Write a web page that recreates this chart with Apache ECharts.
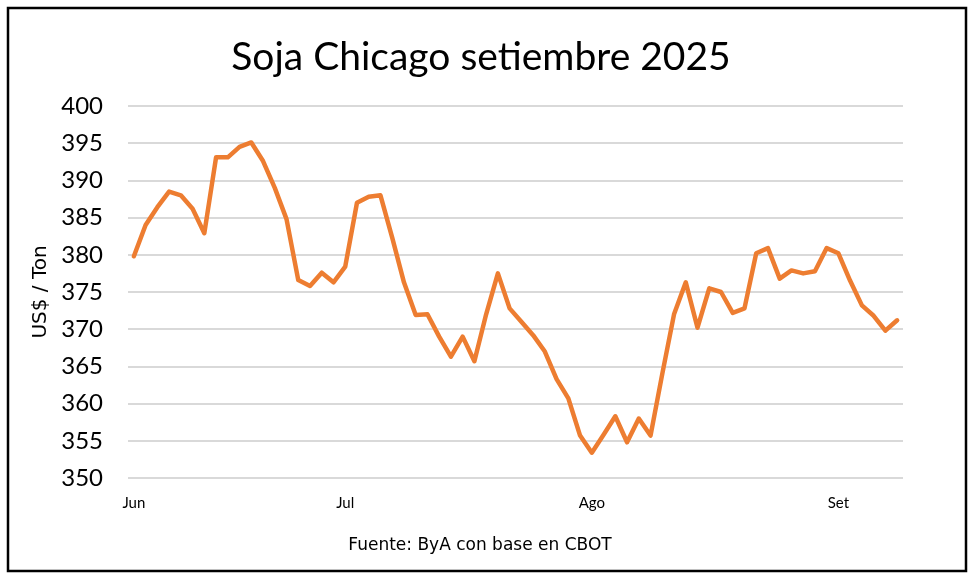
<!DOCTYPE html>
<html>
<head>
<meta charset="utf-8">
<script src="https://cdn.jsdelivr.net/npm/echarts@6/dist/echarts.min.js"></script>
<style>
  html, body { margin: 0; padding: 0; background: #fff; }
  #chart { width: 975px; height: 581px; }
</style>
</head>
<body>
<div id="chart"></div>
<script>
// soja sept-2025 contract, daily close (US$/ton)
const prices = [
  379.8, 384.0, 386.4, 388.5, 388.0, 386.2, 382.9, 393.1, 393.1, 394.5,
  395.1, 392.6, 389.0, 384.8, 376.6, 375.8, 377.6, 376.3, 378.4, 387.0,
  387.8, 388.0, 382.3, 376.3, 371.9, 372.0, 369.0, 366.3, 369.0, 365.7,
  372.0, 377.5, 372.8, 371.0, 369.2, 367.0, 363.3, 360.7, 355.7, 353.4,
  355.8, 358.3, 354.8, 358.0, 355.7, 364.0, 372.0, 376.3, 370.2, 375.5,
  375.0, 372.2, 372.8, 380.2, 380.9, 376.8, 377.9, 377.5, 377.8, 380.9,
  380.2, 376.5, 373.2, 371.8, 369.8, 371.2
];

// month labels and the trading day where each one sits
const monthLabels = ['Jun', 'Jul', 'Ago', 'Set'];
const monthIndex = [0, 18, 39, 60];

const yMin = 350, yMax = 400, yStep = 5;

const categories = prices.map((_, i) => {
  const k = monthIndex.indexOf(i);
  return k >= 0 ? monthLabels[k] : '';
});

const chart = echarts.init(document.getElementById('chart'), null, { renderer: 'canvas' });

chart.setOption({
  backgroundColor: '#fff',
  animation: false,
  title: {
    text: 'Soja Chicago setiembre 2025',
    left: 481,
    textAlign: 'center',
    top: 38,
    padding: 0,
    textStyle: { fontFamily: 'Lato', fontSize: 39, fontWeight: 'normal', color: '#000' }
  },
  grid: { left: 128, right: 72, top: 106, bottom: 103 },
  xAxis: {
    type: 'category',
    data: categories,
    boundaryGap: true,
    axisLine: { show: false },
    axisTick: { show: false },
    axisLabel: {
      interval: 0,
      margin: 18,
      fontFamily: 'Lato',
      fontSize: 15,
      color: '#000'
    }
  },
  yAxis: {
    type: 'value',
    min: yMin,
    max: yMax,
    interval: yStep,
    name: 'US$ / Ton',
    nameLocation: 'middle',
    nameGap: 72,
    nameTextStyle: { fontFamily: 'DejaVu Sans', fontSize: 20, color: '#000' },
    axisLine: { show: false },
    axisTick: { show: false },
    axisLabel: { margin: 25, fontFamily: 'Lato', fontSize: 24, color: '#000' },
    splitLine: { lineStyle: { color: '#d9d9d9', width: 2 } }
  },
  series: [{
    type: 'line',
    data: prices,
    showSymbol: false,
    lineStyle: { color: '#ED7D31', width: 4.5, join: 'round', cap: 'round' },
    itemStyle: { color: '#ED7D31' }
  }],
  graphic: [
    {
      type: 'rect',
      shape: { x: 8, y: 8, width: 958, height: 563 },
      style: { fill: 'none', stroke: '#000', lineWidth: 2.5 },
      silent: true
    },
    {
      type: 'text',
      x: 480,
      y: 546,
      style: {
        text: 'Fuente: ByA con base en CBOT',
        font: '17px "DejaVu Sans"',
        fill: '#000',
        align: 'center',
        verticalAlign: 'middle'
      }
    }
  ]
});
</script>
</body>
</html>
